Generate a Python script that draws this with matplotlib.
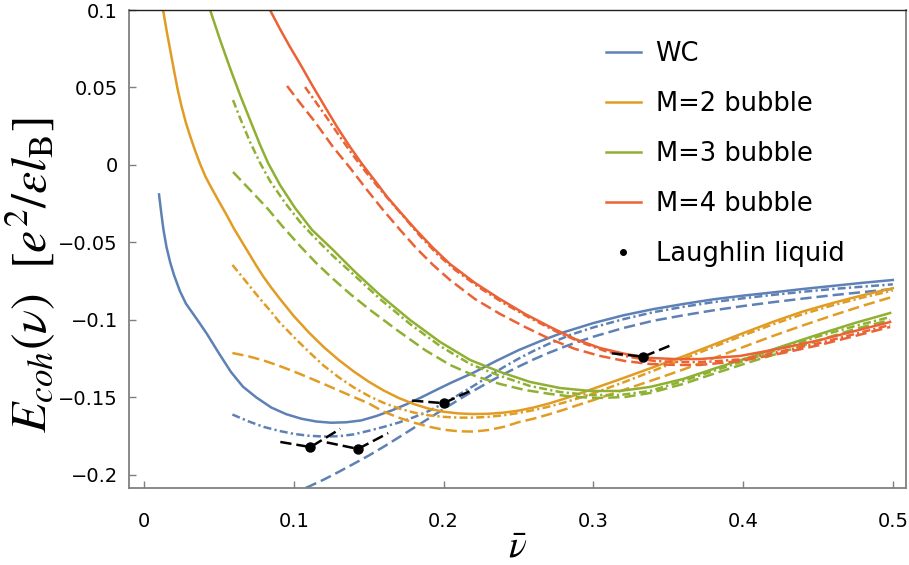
import matplotlib
matplotlib.use("Agg")
import matplotlib.pyplot as plt
from matplotlib.lines import Line2D

# colours (Mathematica default palette)
blue, orange, green, red = "#5E81B5", "#E19C24", "#8FB032", "#EB6235"

# ---- WC ----
wc_nu = [0.010, 0.0115, 0.013, 0.015, 0.0175, 0.020, 0.024, 0.028, 0.032, 0.036, 0.042, 0.050, 0.058, 0.066,
         0.075, 0.085, 0.095, 0.105, 0.115, 0.125, 0.135, 0.145, 0.155, 0.165, 0.175, 0.185, 0.195, 0.205,
         0.22, 0.235, 0.25, 0.265, 0.28, 0.30, 0.32, 0.34, 0.36, 0.38, 0.40, 0.42, 0.44, 0.46, 0.48, 0.50]
wc_E = [-0.019, -0.031, -0.042, -0.053, -0.063, -0.071, -0.0815, -0.0895, -0.095, -0.1005, -0.109, -0.1215,
        -0.1335, -0.143, -0.150, -0.1565, -0.1608, -0.1637, -0.1655, -0.1663, -0.166, -0.1648, -0.162,
        -0.1585, -0.1545, -0.150, -0.1452, -0.1405, -0.134, -0.1265, -0.1195, -0.1135, -0.108, -0.102,
        -0.097, -0.093, -0.0897, -0.0867, -0.0843, -0.0822, -0.080, -0.078, -0.076, -0.0742]
wc_dd_nu = [0.059, 0.07, 0.08, 0.09, 0.10, 0.11, 0.12, 0.13, 0.14, 0.15, 0.16, 0.17, 0.18, 0.19, 0.20, 0.21,
            0.22, 0.23, 0.24, 0.25, 0.26, 0.27, 0.285, 0.30, 0.32, 0.34, 0.36, 0.38, 0.40, 0.42, 0.44, 0.46,
            0.48, 0.50]
wc_dd_E = [-0.161, -0.1655, -0.169, -0.1715, -0.1735, -0.1747, -0.1752, -0.175, -0.1738, -0.1715, -0.169,
           -0.1662, -0.1628, -0.1588, -0.1538, -0.1483, -0.1425, -0.1365, -0.1305, -0.125, -0.120, -0.1155,
           -0.1095, -0.1048, -0.0995, -0.095, -0.0915, -0.0885, -0.086, -0.0838, -0.0818, -0.080, -0.0785,
           -0.077]
wc_da_nu = [0.098, 0.11, 0.12, 0.13, 0.14, 0.15, 0.16, 0.17, 0.18, 0.19, 0.20, 0.21, 0.22, 0.23, 0.24, 0.25,
            0.26, 0.27, 0.28, 0.29, 0.30, 0.32, 0.34, 0.36, 0.38, 0.40, 0.42, 0.44, 0.46, 0.48, 0.50]
wc_da_E = [-0.212, -0.2075, -0.203, -0.198, -0.1928, -0.1875, -0.1818, -0.1758, -0.1697, -0.1636, -0.1575,
           -0.1515, -0.1457, -0.1402, -0.135, -0.1301, -0.1255, -0.1213, -0.1175, -0.114, -0.1108, -0.1052,
           -0.1005, -0.097, -0.0938, -0.091, -0.0885, -0.0862, -0.084, -0.082, -0.080]

# ---- M=2 bubble ----
m2_nu = [0.0127, 0.015, 0.0175, 0.020, 0.0225, 0.025, 0.028, 0.031, 0.034, 0.0375, 0.041, 0.045, 0.050,
         0.055, 0.060, 0.065, 0.070, 0.075, 0.080, 0.085, 0.090, 0.095, 0.100, 0.11, 0.12, 0.13, 0.14, 0.15,
         0.16, 0.17, 0.18, 0.19, 0.20, 0.21, 0.22, 0.23, 0.24, 0.25, 0.26, 0.27, 0.28, 0.29, 0.30, 0.32,
         0.34, 0.36, 0.38, 0.40, 0.42, 0.44, 0.46, 0.48, 0.50]
m2_E = [0.100, 0.087, 0.074, 0.061, 0.0485, 0.038, 0.027, 0.018, 0.0095, 0.0005, -0.0075, -0.0148, -0.0235,
        -0.032, -0.041, -0.049, -0.057, -0.065, -0.0725, -0.0792, -0.0855, -0.0915, -0.0975, -0.108, -0.1175,
        -0.1258, -0.1332, -0.1398, -0.1455, -0.1503, -0.1542, -0.1572, -0.1592, -0.1603, -0.1607, -0.1605,
        -0.1598, -0.1585, -0.1565, -0.154, -0.151, -0.1478, -0.1443, -0.1375, -0.1305, -0.1235, -0.116,
        -0.1085, -0.1012, -0.0945, -0.089, -0.084, -0.0795]
m2_dd_nu = [0.059, 0.065, 0.070, 0.075, 0.080, 0.085, 0.090, 0.10, 0.11, 0.12, 0.13, 0.14, 0.15, 0.16, 0.17,
            0.18, 0.19, 0.20, 0.21, 0.22, 0.23, 0.24, 0.25, 0.26, 0.27, 0.28, 0.29, 0.30, 0.32, 0.34, 0.36,
            0.38, 0.40, 0.42, 0.44, 0.46, 0.48, 0.50]
m2_dd_E = [-0.0645, -0.0715, -0.0775, -0.0835, -0.0893, -0.0948, -0.101, -0.111, -0.1205, -0.1295, -0.137,
           -0.1435, -0.149, -0.1535, -0.157, -0.1597, -0.1615, -0.1625, -0.163, -0.163, -0.1625, -0.1615,
           -0.160, -0.1582, -0.156, -0.1534, -0.1505, -0.1473, -0.1403, -0.1328, -0.1252, -0.1175, -0.110,
           -0.1028, -0.0962, -0.0905, -0.0855, -0.081]
m2_da_nu = [0.059, 0.07, 0.08, 0.09, 0.10, 0.11, 0.12, 0.13, 0.14, 0.15, 0.16, 0.17, 0.18, 0.19, 0.20, 0.21,
            0.22, 0.23, 0.24, 0.25, 0.26, 0.27, 0.28, 0.29, 0.30, 0.32, 0.34, 0.36, 0.38, 0.40, 0.42, 0.44,
            0.46, 0.48, 0.50]
m2_da_E = [-0.1213, -0.1235, -0.1262, -0.1295, -0.1332, -0.1372, -0.1413, -0.1455, -0.1497, -0.1538, -0.1592,
           -0.163, -0.1662, -0.1688, -0.1708, -0.1718, -0.172, -0.171, -0.169, -0.166, -0.1637, -0.161,
           -0.158, -0.1548, -0.1517, -0.1452, -0.1387, -0.132, -0.1248, -0.1175, -0.1103, -0.1035, -0.097,
           -0.0908, -0.085]

# ---- M=3 bubble ----
m3_nu = [0.0441, 0.0508, 0.0574, 0.0641, 0.0708, 0.0775, 0.0828, 0.0908, 0.1008, 0.1122, 0.1262, 0.1409,
         0.1576, 0.1776, 0.1977, 0.2177, 0.2377, 0.2578, 0.2778, 0.2978, 0.3179, 0.3379, 0.3599, 0.382,
         0.4047, 0.4267, 0.4514, 0.4748, 0.4982]
m3_E = [0.100, 0.0806, 0.0626, 0.0452, 0.029, 0.0129, 0.0013, -0.0129, -0.0277, -0.0419, -0.0548, -0.069,
        -0.0839, -0.100, -0.1142, -0.1258, -0.1335, -0.140, -0.1439, -0.1458, -0.1458, -0.1432, -0.1381,
        -0.131, -0.1239, -0.1168, -0.109, -0.1019, -0.0955]
m3_dd_nu = [0.0594, 0.0641, 0.0708, 0.0775, 0.0841, 0.0942, 0.1042, 0.1142, 0.1262, 0.1409, 0.1576, 0.1776,
            0.1977, 0.2177, 0.2377, 0.2578, 0.2778, 0.2978, 0.3179, 0.3379, 0.3599, 0.382, 0.4047, 0.4267,
            0.4514, 0.4748, 0.4982]
m3_dd_E = [0.0419, 0.0303, 0.0148, 0.0013, -0.0103, -0.0245, -0.0368, -0.0471, -0.0587, -0.0716, -0.0865,
           -0.1026, -0.1168, -0.1284, -0.1361, -0.1426, -0.1465, -0.1484, -0.1484, -0.1458, -0.1394, -0.1323,
           -0.1252, -0.1181, -0.1103, -0.1039, -0.0981]
m3_da_nu = [0.0594, 0.0708, 0.0821, 0.0928, 0.1042, 0.1149, 0.1262, 0.1376, 0.1509, 0.1689, 0.1876, 0.2043,
            0.221, 0.2377, 0.2544, 0.2711, 0.2878, 0.3045, 0.3212, 0.3379, 0.3599, 0.382, 0.4047, 0.4267,
            0.4514, 0.4748, 0.4982]
m3_da_E = [-0.0045, -0.0161, -0.0277, -0.040, -0.0523, -0.0632, -0.0735, -0.0832, -0.0935, -0.1065, -0.1194,
           -0.129, -0.1361, -0.1413, -0.1452, -0.1477, -0.1497, -0.1503, -0.1497, -0.1471, -0.1413, -0.1342,
           -0.1271, -0.1206, -0.1129, -0.1058, -0.100]

# ---- M=4 bubble ----
m4_nu = [0.0841, 0.0908, 0.0975, 0.1042, 0.1122, 0.1209, 0.1289, 0.1376, 0.1456, 0.1543, 0.1623, 0.171,
         0.1816, 0.193, 0.2043, 0.221, 0.2377, 0.2544, 0.2711, 0.2878, 0.3045, 0.3212, 0.3379, 0.3546,
         0.3713, 0.398, 0.4267, 0.4514, 0.4748, 0.4982]
m4_E = [0.100, 0.0877, 0.0761, 0.0652, 0.0516, 0.0374, 0.0245, 0.0116, 0.0006, -0.0103, -0.0206, -0.0303,
        -0.0419, -0.0535, -0.0639, -0.0761, -0.0865, -0.0961, -0.1045, -0.1123, -0.1181, -0.1219, -0.1245,
        -0.1252, -0.1252, -0.1232, -0.1181, -0.1129, -0.1071, -0.1013]
m4_dd_nu = [0.1075, 0.1142, 0.1222, 0.1309, 0.1389, 0.1476, 0.1563, 0.1643, 0.173, 0.1843, 0.1957, 0.2077,
            0.2244, 0.2411, 0.2578, 0.2745, 0.2912, 0.3078, 0.3245, 0.3412, 0.3579, 0.3746, 0.4013, 0.4267,
            0.4514, 0.4748, 0.4982]
m4_dd_E = [0.0503, 0.0413, 0.0303, 0.0181, 0.0071, -0.0039, -0.0142, -0.0232, -0.0329, -0.0458, -0.0574,
           -0.0677, -0.0794, -0.0897, -0.0987, -0.1071, -0.1142, -0.120, -0.1239, -0.1265, -0.1271, -0.1271,
           -0.1252, -0.120, -0.1148, -0.109, -0.1032]
m4_da_nu = [0.0955, 0.1042, 0.1142, 0.1262, 0.1376, 0.1489, 0.1596, 0.171, 0.1823, 0.193, 0.2043, 0.221,
            0.2377, 0.2544, 0.2711, 0.2878, 0.3045, 0.3212, 0.3379, 0.3546, 0.3713, 0.398, 0.4267, 0.4514,
            0.4748, 0.4982]
m4_da_E = [0.051, 0.040, 0.0277, 0.0116, -0.0019, -0.0161, -0.029, -0.0419, -0.0542, -0.0645, -0.0742,
           -0.0865, -0.0961, -0.1045, -0.1123, -0.1187, -0.1232, -0.1265, -0.1284, -0.129, -0.129, -0.1265,
           -0.1213, -0.1161, -0.1103, -0.1045]

# ---- Laughlin liquid (with short quasiparticle/quasihole branches) ----
laughlin_nu = [1 / 9, 1 / 7, 1 / 5, 1 / 3]
laughlin_E = [-0.182, -0.1832, -0.1537, -0.1237]
laughlin_left_nu = [0.091, 0.122, 0.179, 0.3123]
laughlin_left_E = [-0.1787, -0.179, -0.152, -0.1215]
laughlin_right_nu = [0.131, 0.163, 0.2197, 0.3526]
laughlin_right_E = [-0.1703, -0.173, -0.145, -0.116]

labels = ["WC", "M=2 bubble", "M=3 bubble", "M=4 bubble", "Laughlin liquid"]
xticks = [0, 0.1, 0.2, 0.3, 0.4, 0.5]
xticklabels = ["0", "0.1", "0.2", "0.3", "0.4", "0.5"]
yticks = [-0.2, -0.15, -0.1, -0.05, 0, 0.05, 0.1]
yticklabels = ["\u22120.2", "\u22120.15", "\u22120.1", "\u22120.05", "0", "0.05", "0.1"]

plt.rcParams["font.family"] = ["DejaVu Sans"]
plt.rcParams["mathtext.fontset"] = "stix"

fig = plt.figure(figsize=(9.09, 5.65), dpi=100)
ax = fig.add_axes([0.142, 0.1363, 0.8547, 0.846])

lw = 1.8
dashed = (4.5, 2.0)
dotdash = (3.2, 1.3, 0.9, 1.3)

series = [
    (blue, wc_nu, wc_E, wc_dd_nu, wc_dd_E, wc_da_nu, wc_da_E),
    (orange, m2_nu, m2_E, m2_dd_nu, m2_dd_E, m2_da_nu, m2_da_E),
    (green, m3_nu, m3_E, m3_dd_nu, m3_dd_E, m3_da_nu, m3_da_E),
    (red, m4_nu, m4_E, m4_dd_nu, m4_dd_E, m4_da_nu, m4_da_E),
]
for col, xs, ys, xdd, ydd, xda, yda in series:
    ax.plot(xs, ys, color=col, lw=lw)
    ax.plot(xdd, ydd, color=col, lw=lw, dashes=dotdash)
    ax.plot(xda, yda, color=col, lw=lw, dashes=dashed)

for i in range(len(laughlin_nu)):
    ax.plot([laughlin_left_nu[i], laughlin_nu[i], laughlin_right_nu[i]],
            [laughlin_left_E[i], laughlin_E[i], laughlin_right_E[i]],
            color="black", lw=lw, dashes=dashed, zorder=5)
ax.plot(laughlin_nu, laughlin_E, "o", color="black", ms=6.5, zorder=6)

ax.set_xlim(-0.010, 0.5088)
ax.set_ylim(-0.2084, 0.1)
ax.set_xticks(xticks)
ax.set_xticklabels(xticklabels)
ax.set_yticks(yticks)
ax.set_yticklabels(yticklabels)
ax.tick_params(direction="in", length=5, width=1, color="#7f7f7f", labelsize=14)
ax.tick_params(axis="x", pad=17)
ax.tick_params(axis="y", pad=8)

for side in ["left", "bottom", "right"]:
    ax.spines[side].set_color("#808080")
    ax.spines[side].set_linewidth(1.3)
ax.spines["top"].set_color("#222222")
ax.spines["top"].set_linewidth(1.0)

ax.set_xlabel(r"$\bar{\nu}$", fontsize=27, va="center")
ax.xaxis.set_label_coords(0.5, -0.125)
ax.set_ylabel(r"$E_{coh}(\nu)\ \ [e^2/\epsilon l_\mathrm{B}]$", fontsize=36)
ax.yaxis.set_label_coords(-0.092, 0.445)

handles = [Line2D([], [], color=c, lw=lw) for c in [blue, orange, green, red]]
handles.append(Line2D([], [], color="black", marker="o", ms=4, ls="none"))
ax.legend(handles, labels, loc="upper left", bbox_to_anchor=(0.597, 0.962), frameon=False,
          fontsize=18.5, handlelength=1.36, handletextpad=0.58, labelspacing=0.93, borderpad=0)

fig.savefig("out.png", dpi=100)
